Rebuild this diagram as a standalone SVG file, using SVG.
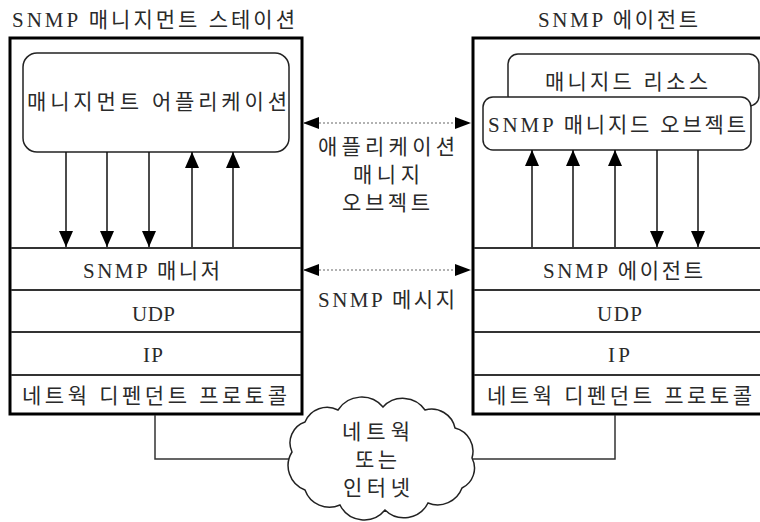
<svg xmlns="http://www.w3.org/2000/svg" width="760" height="522" viewBox="0 0 760 522">
<style>
text{font-family:"Liberation Serif","Noto Sans CJK KR",serif;font-size:21px;fill:#2a2a2a}
.box{fill:#fff;stroke:#000;stroke-width:3}
.layer{stroke:#333;stroke-width:2;fill:none}
.rr{fill:#fff;stroke:#222;stroke-width:1.5}
.arr{stroke:#111;stroke-width:1.5;fill:none;marker-end:url(#ah)}
.dot{stroke:#999;stroke-width:1.5;stroke-dasharray:2 2;fill:none;marker-start:url(#mh);marker-end:url(#mh)}
.wire{stroke:#333;stroke-width:1.5;fill:none}
</style>
<defs>
<marker id="ah" markerUnits="userSpaceOnUse" markerWidth="18" markerHeight="16" refX="16" refY="7" orient="auto"><path d="M0,0 L16,7 L0,14 z" fill="#000"/></marker>
<marker id="mh" markerUnits="userSpaceOnUse" markerWidth="18" markerHeight="14" refX="16" refY="6" orient="auto-start-reverse"><path d="M0,0 L16,6 L0,12 z" fill="#000"/></marker>
</defs>
<rect width="760" height="522" fill="#fff"/>

<g id="manager-station">
<text x="12" y="27" textLength="283">SNMP 매니지먼트 스테이션</text>
<rect class="box" x="10" y="38" width="292" height="376"/>
<line class="layer" x1="11" y1="248" x2="301" y2="248"/>
<line class="layer" x1="11" y1="290" x2="301" y2="290"/>
<line class="layer" x1="11" y1="332" x2="301" y2="332"/>
<line class="layer" x1="11" y1="375" x2="301" y2="375"/>
</g>
<g id="mgmt-app">
<rect class="rr" x="23" y="53" width="266" height="99" rx="14"/>
<text x="27" y="109" textLength="260">매니지먼트 어플리케이션</text>
</g>
<g id="snmp-manager"><text x="83" y="278" textLength="137">SNMP 매니저</text></g>
<g id="udp-left"><text x="132" y="321" textLength="43">UDP</text></g>
<g id="ip-left"><text x="143" y="362" textLength="20">IP</text></g>
<g id="ndp-left"><text x="22" y="403" textLength="265">네트웍 디펜던트 프로토콜</text></g>

<g id="agent-station">
<text x="538" y="27" textLength="160">SNMP 에이전트</text>
<rect class="box" x="473" y="38" width="300" height="376"/>
<line class="layer" x1="474" y1="248" x2="760" y2="248"/>
<line class="layer" x1="474" y1="290" x2="760" y2="290"/>
<line class="layer" x1="474" y1="332" x2="760" y2="332"/>
<line class="layer" x1="474" y1="375" x2="760" y2="375"/>
</g>
<g id="managed-resource">
<rect class="rr" x="508" y="54" width="251" height="52" rx="10"/>
<text x="545" y="89" textLength="163">매니지드 리소스</text>
</g>
<g id="managed-object">
<rect class="rr" x="483" y="97" width="268" height="53" rx="10"/>
<text x="488" y="132" textLength="258">SNMP 매니지드 오브젝트</text>
</g>
<g id="snmp-agent"><text x="543" y="278" textLength="160">SNMP 에이전트</text></g>
<g id="udp-right"><text x="597" y="321" textLength="45">UDP</text></g>
<g id="ip-right"><text x="608" y="362" textLength="22">IP</text></g>
<g id="ndp-right"><text x="487" y="403" textLength="265">네트웍 디펜던트 프로토콜</text></g>

<g id="connectors">
<line class="arr" x1="66" y1="152" x2="66" y2="247"/>
<line class="arr" x1="107" y1="152" x2="107" y2="247"/>
<line class="arr" x1="149" y1="152" x2="149" y2="247"/>
<line class="arr" x1="192" y1="247" x2="192" y2="152"/>
<line class="arr" x1="233" y1="247" x2="233" y2="152"/>
<line class="arr" x1="532" y1="247" x2="532" y2="150"/>
<line class="arr" x1="573" y1="247" x2="573" y2="150"/>
<line class="arr" x1="615" y1="247" x2="615" y2="150"/>
<line class="arr" x1="657" y1="150" x2="657" y2="247"/>
<line class="arr" x1="698" y1="150" x2="698" y2="247"/>
<line class="dot" x1="303" y1="123" x2="471" y2="123"/>
<line class="dot" x1="303" y1="270" x2="471" y2="270"/>
<polyline class="wire" points="155,415 155,459 292,459"/>
<polyline class="wire" points="615,415 615,459 470,459"/>
<text x="318" y="154" textLength="137">애플리케이션</text>
<text x="353" y="182" textLength="67">매니지</text>
<text x="342" y="210" textLength="88">오브젝트</text>
<text x="318" y="307" textLength="137">SNMP 메시지</text>
</g>

<g id="network">
<path d="M292,452 A22,22 0 0 1 305,422 A24,24 0 0 1 338,410 A28,28 0 0 1 383,407 A27,27 0 0 1 425,410 A24,24 0 0 1 455,428 A24,24 0 0 1 472,458 A22,22 0 0 1 462,488 A26,26 0 0 1 428,503 A27,27 0 0 1 385,510 A27,27 0 0 1 340,505 A26,26 0 0 1 305,490 A26,26 0 0 1 292,452 Z" fill="#fff" stroke="#222" stroke-width="1.5"/>
<text x="342" y="439" textLength="68">네트웍</text>
<text x="355" y="467" textLength="42">또는</text>
<text x="343" y="495" textLength="67">인터넷</text>
</g>
</svg>
